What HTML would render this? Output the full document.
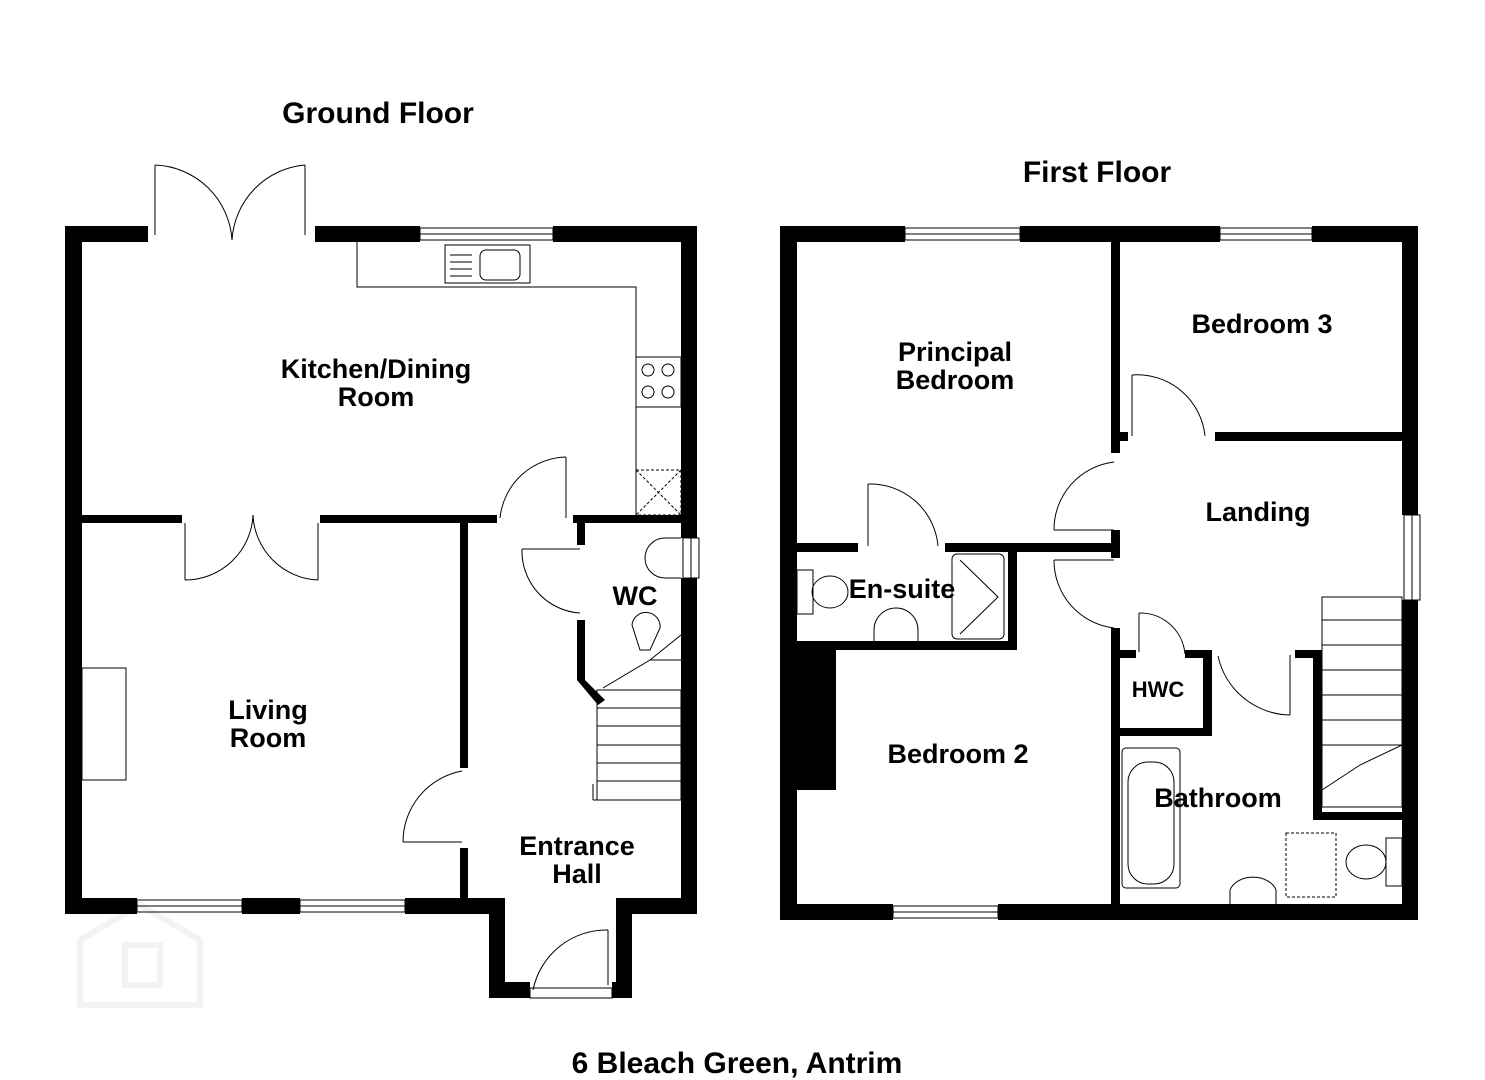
<!DOCTYPE html>
<html><head><style>
html,body{margin:0;padding:0;background:#fff;}
svg{display:block;}
text{font-family:"Liberation Sans",Arial,sans-serif;font-weight:bold;fill:#000;}
</style></head><body>
<svg width="1485" height="1080" viewBox="0 0 1485 1080" xmlns="http://www.w3.org/2000/svg">
<g fill="none" stroke="#f3f3f3" stroke-width="6">
<path d="M80 940 L140 905 L200 940 L200 1005 L80 1005 Z"/>
<rect x="125" y="945" width="35" height="40"/>
</g>
<text x="378" y="123" font-size="30" text-anchor="middle">Ground Floor</text>
<text x="1097" y="182" font-size="30" text-anchor="middle">First Floor</text>
<text x="737" y="1073" font-size="30" text-anchor="middle">6 Bleach Green, Antrim</text>

<g fill="#000">
<rect x="65" y="226" width="17" height="688"/>
<rect x="65" y="226" width="83" height="16"/>
<rect x="315" y="226" width="105" height="16"/>
<rect x="553" y="226" width="144" height="16"/>
<rect x="681" y="226" width="16" height="312"/>
<rect x="681" y="578" width="16" height="336"/>
<rect x="65" y="898" width="72" height="16"/>
<rect x="242" y="898" width="58" height="16"/>
<rect x="405" y="898" width="100" height="16"/>
<rect x="489" y="898" width="16" height="100"/>
<rect x="489" y="982" width="41" height="16"/>
<rect x="612" y="982" width="20" height="16"/>
<rect x="616" y="898" width="16" height="100"/>
<rect x="616" y="898" width="81" height="16"/>
<rect x="82" y="515" width="100" height="8"/>
<rect x="320" y="515" width="177" height="8"/>
<rect x="573" y="515" width="108" height="8"/>
<rect x="460" y="523" width="8" height="245"/>
<rect x="460" y="848" width="8" height="50"/>
<rect x="577" y="523" width="8" height="22"/>
<rect x="577" y="620" width="8" height="60"/>
<polygon points="577,680 585,680 605,700 598,705"/>

<rect x="780" y="226" width="17" height="694"/>
<rect x="780" y="226" width="125" height="16"/>
<rect x="1020" y="226" width="200" height="16"/>
<rect x="1312" y="226" width="106" height="16"/>
<rect x="1402" y="226" width="16" height="289"/>
<rect x="1402" y="600" width="16" height="320"/>
<rect x="780" y="904" width="113" height="16"/>
<rect x="998" y="904" width="420" height="16"/>
<rect x="1111" y="242" width="9" height="211"/>
<rect x="1111" y="530" width="9" height="28"/>
<rect x="1111" y="628" width="9" height="276"/>
<rect x="1120" y="432" width="8" height="9"/>
<rect x="1215" y="432" width="187" height="9"/>
<rect x="797" y="543" width="61" height="9"/>
<rect x="945" y="543" width="175" height="9"/>
<rect x="1008" y="543" width="9" height="107"/>
<rect x="797" y="641" width="220" height="9"/>
<rect x="797" y="650" width="39" height="140"/>
<rect x="1120" y="650" width="16" height="8"/>
<rect x="1185" y="650" width="25" height="8"/>
<rect x="1203" y="650" width="9" height="85"/>
<rect x="1120" y="728" width="92" height="8"/>
<rect x="1295" y="650" width="27" height="8"/>
<rect x="1313" y="650" width="9" height="170"/>
<rect x="1313" y="812" width="89" height="8"/>
</g>

<g fill="none" stroke="#000" stroke-width="1">
<rect x="420" y="228" width="133" height="12"/><line x1="420" y1="234" x2="553" y2="234"/>
<rect x="137" y="900" width="105" height="12"/><line x1="137" y1="906" x2="242" y2="906"/>
<rect x="300" y="900" width="105" height="12"/><line x1="300" y1="906" x2="405" y2="906"/>
<rect x="683" y="538" width="16" height="40"/><line x1="691" y1="538" x2="691" y2="578"/>
<rect x="530" y="988" width="82" height="10"/>
<line x1="155" y1="165" x2="155" y2="235"/><path d="M155 165 A80 80 0 0 1 232 240"/>
<line x1="305" y1="165" x2="305" y2="235"/><path d="M305 165 A80 80 0 0 0 232 240"/>
<line x1="185" y1="523" x2="185" y2="580"/><path d="M185 580 A68 68 0 0 0 253 515"/>
<line x1="318" y1="523" x2="318" y2="580"/><path d="M318 580 A68 68 0 0 1 253 515"/>
<line x1="566" y1="457" x2="566" y2="518"/><path d="M566 457 A68 68 0 0 0 500 518"/>
<line x1="522" y1="549" x2="580" y2="549"/><path d="M522 549 A62 62 0 0 0 580 613"/>
<line x1="403" y1="842" x2="462" y2="842"/><path d="M403 842 A72 72 0 0 1 462 771"/>
<line x1="608" y1="930" x2="608" y2="985"/><path d="M608 930 A75 75 0 0 0 533 990"/>
<polyline points="357,242 357,287 636,287 636,515"/>
<rect x="445" y="245" width="85" height="38"/>
<rect x="480" y="250" width="40" height="30" rx="6"/>
<line x1="450" y1="255" x2="472" y2="255"/><line x1="450" y1="262" x2="472" y2="262"/><line x1="450" y1="269" x2="472" y2="269"/><line x1="450" y1="276" x2="472" y2="276"/>
<rect x="636" y="357" width="45" height="50"/>
<circle cx="648" cy="370" r="6"/><circle cx="668" cy="370" r="6"/><circle cx="648" cy="392" r="6"/><circle cx="668" cy="392" r="6"/>
<g stroke-dasharray="3,2"><rect x="636" y="470" width="45" height="45"/><line x1="636" y1="470" x2="681" y2="515"/><line x1="681" y1="470" x2="636" y2="515"/></g>
<rect x="82" y="668" width="44" height="112"/>
<path d="M681 538 L665 538 A20 20 0 0 0 665 578 L681 578"/>
<path d="M632 625 A14 14 0 0 1 660 628 L650 650 L640 650 Z"/>
<rect x="597" y="690" width="84" height="110"/>
<line x1="593" y1="800" x2="681" y2="800"/><line x1="593" y1="800" x2="593" y2="784"/>
<line x1="597" y1="708" x2="681" y2="708"/><line x1="597" y1="726" x2="681" y2="726"/><line x1="597" y1="745" x2="681" y2="745"/><line x1="597" y1="763" x2="681" y2="763"/><line x1="597" y1="781" x2="681" y2="781"/>
<polyline points="603,688 650,660 681,635"/><line x1="650" y1="660" x2="681" y2="660"/>

<rect x="905" y="228" width="115" height="12"/><line x1="905" y1="234" x2="1020" y2="234"/>
<rect x="1220" y="228" width="92" height="12"/><line x1="1220" y1="234" x2="1312" y2="234"/>
<rect x="893" y="906" width="105" height="12"/><line x1="893" y1="912" x2="998" y2="912"/>
<rect x="1404" y="515" width="16" height="85"/><line x1="1412" y1="515" x2="1412" y2="600"/>
<line x1="1132" y1="375" x2="1132" y2="436"/><path d="M1132 375 A68 68 0 0 1 1205 436"/>
<line x1="1054" y1="530" x2="1114" y2="530"/><path d="M1054 530 A68 68 0 0 1 1114 462"/>
<line x1="1054" y1="560" x2="1114" y2="560"/><path d="M1054 560 A68 68 0 0 0 1114 628"/>
<line x1="868" y1="484" x2="868" y2="546"/><path d="M868 484 A68 68 0 0 1 938 546"/>
<line x1="1139" y1="613" x2="1139" y2="652"/><path d="M1139 613 A45 45 0 0 1 1185 654"/>
<line x1="1290" y1="655" x2="1290" y2="715"/><path d="M1290 715 A75 75 0 0 1 1218 656"/>
<rect x="797" y="570" width="16" height="44"/><ellipse cx="830" cy="592" rx="18" ry="16"/>
<path d="M874 641 L874 630 A22 22 0 0 1 918 630 L918 641"/>
<rect x="952" y="554" width="52" height="85" rx="5"/><polyline points="960,560 998,597 960,634"/>
<rect x="1122" y="748" width="58" height="140" rx="4"/><rect x="1128" y="762" width="46" height="122" rx="20"/>
<rect x="1286" y="833" width="50" height="64" stroke-dasharray="3,2"/>
<path d="M1230 904 L1230 890 A24 18 0 0 1 1276 890 L1276 904"/>
<rect x="1386" y="838" width="16" height="48"/><ellipse cx="1366" cy="862" rx="20" ry="17"/>
<rect x="1322" y="597" width="80" height="210"/>
<line x1="1322" y1="620" x2="1402" y2="620"/><line x1="1322" y1="645" x2="1402" y2="645"/><line x1="1322" y1="670" x2="1402" y2="670"/><line x1="1322" y1="695" x2="1402" y2="695"/><line x1="1322" y1="720" x2="1402" y2="720"/><line x1="1322" y1="745" x2="1402" y2="745"/>
<polyline points="1322,790 1360,765 1402,745"/>
</g>

<g font-size="27" text-anchor="middle">
<text x="376" y="378">Kitchen/Dining</text><text x="376" y="406">Room</text>
<text x="268" y="719">Living</text><text x="268" y="747">Room</text>
<text x="635" y="605">WC</text>
<text x="577" y="855">Entrance</text><text x="577" y="883">Hall</text>
<text x="955" y="361">Principal</text><text x="955" y="389">Bedroom</text>
<text x="1262" y="333">Bedroom 3</text>
<text x="1258" y="521">Landing</text>
<text x="902" y="598">En-suite</text>
<text x="958" y="763">Bedroom 2</text>
<text x="1218" y="807">Bathroom</text>
<text x="1158" y="697" font-size="22">HWC</text>
</g>
</svg>
</body></html>
